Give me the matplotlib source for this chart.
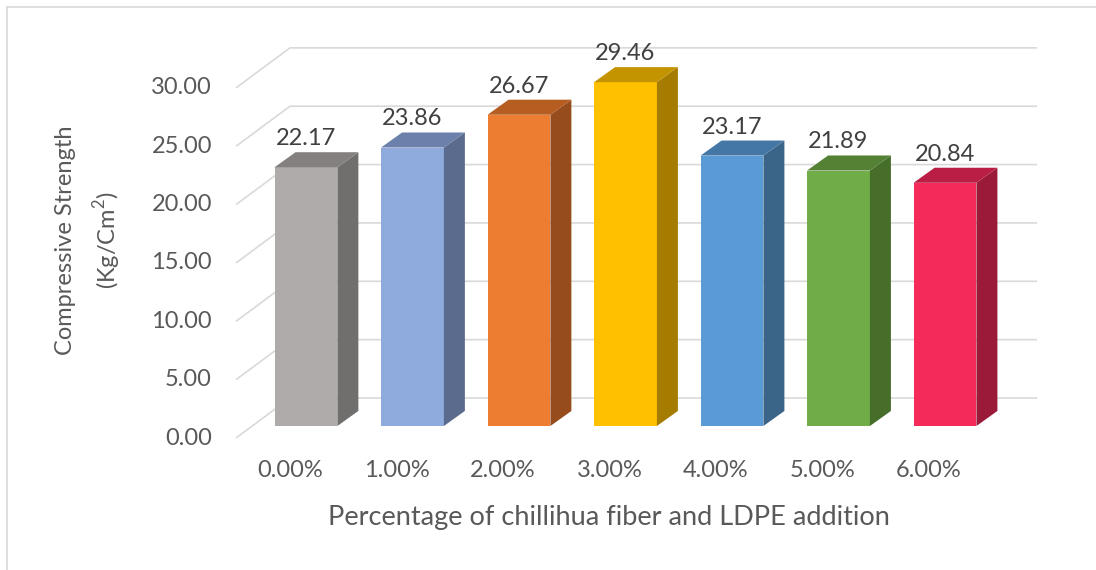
import numpy as np
import matplotlib
matplotlib.use("Agg")
from matplotlib import pyplot as plt

plt.rcParams['font.family'] = ['Lato', 'DejaVu Sans']
plt.rcParams['mathtext.fontset'] = 'custom'
plt.rcParams['mathtext.rm'] = 'Lato'

categories = ['0.00%', '1.00%', '2.00%', '3.00%', '4.00%', '5.00%', '6.00%']
values = [22.17, 23.86, 26.67, 29.46, 23.17, 21.89, 20.84]
y_ticks = [0, 5, 10, 15, 20, 25, 30]
front_colors = ['#AFABAB', '#8FAADC', '#ED7D31', '#FFC000', '#5B9BD5', '#70AD47', '#F42B5A']
top_colors = ['#84807F', '#6B80AA', '#B65D22', '#C49300', '#4577A6', '#548134', '#BA1E45']
side_colors = ['#716E6E', '#5B6B8D', '#974C1E', '#A67C00', '#3A6589', '#466D2A', '#9B1A3A']

# perspective offsets (in data units)
bar_w = 0.59
depth_x, depth_y = 0.197, 1.29
wall_front = (-0.657, -1.03)
wall_back = (-0.15, 2.40)
wall_right = 6.864
grid_col = '#D9D9D9'

fig = plt.figure(figsize=(10.96, 5.70), dpi=100)
ax = fig.add_axes([0.2092, 0.226, 0.7405, 0.7023])
ax.set_xlim(-0.72, 6.90)
ax.set_ylim(-1.3, 33.0)
ax.axis('off')

# walls / gridlines
for t in y_ticks:
    xs = [wall_front[0], wall_back[0], wall_right]
    ys = [t + wall_front[1], t + wall_back[1], t + wall_back[1]]
    ax.plot(xs, ys, color=grid_col, lw=1.2, zorder=1, solid_capstyle='butt')
    ax.text(-0.883, t + wall_front[1], f'{t:.2f}', ha='right', va='center',
            fontsize=17, color='#595959')

# 3d-looking bars
for i, v in enumerate(values):
    x0, x1 = i - bar_w / 2, i + bar_w / 2
    ax.fill([x0, x1, x1, x0], [0, 0, v, v], color=front_colors[i], zorder=3, lw=0)
    ax.fill([x1, x1 + depth_x, x1 + depth_x, x1],
            [0, depth_y, v + depth_y, v], color=side_colors[i], zorder=3, lw=0)
    ax.fill([x0, x1, x1 + depth_x, x0 + depth_x],
            [v, v, v + depth_y, v + depth_y], color=top_colors[i], zorder=3, lw=0)
    ax.text(i, v + 2.45, f'{v:.2f}', ha='center', va='center',
            fontsize=17, color='#404040', zorder=4)
    ax.text(i - 0.15, -3.77, categories[i], ha='center', va='center',
            fontsize=17, color='#595959', clip_on=False)

fig.text(609 / 1096, 1 - 517 / 570, 'Percentage of chillihua fiber and LDPE addition',
         ha='center', va='center', fontsize=19.5, color='#595959')
fig.text(89 / 1096, 1 - 240 / 570, 'Compressive Strength\n(Kg/Cm$^\\mathrm{2}$)',
         ha='center', va='center', rotation=90, fontsize=17, color='#595959',
         linespacing=1.62, multialignment='center')

# chart border (left and top visible)
fig.add_artist(plt.Line2D([7 / 1096, 7 / 1096], [0, 1 - 7 / 570], color='#D9D9D9', lw=1.2))
fig.add_artist(plt.Line2D([7 / 1096, 1], [1 - 7 / 570, 1 - 7 / 570], color='#D9D9D9', lw=1.2))

fig.savefig('out.png', dpi=100)
